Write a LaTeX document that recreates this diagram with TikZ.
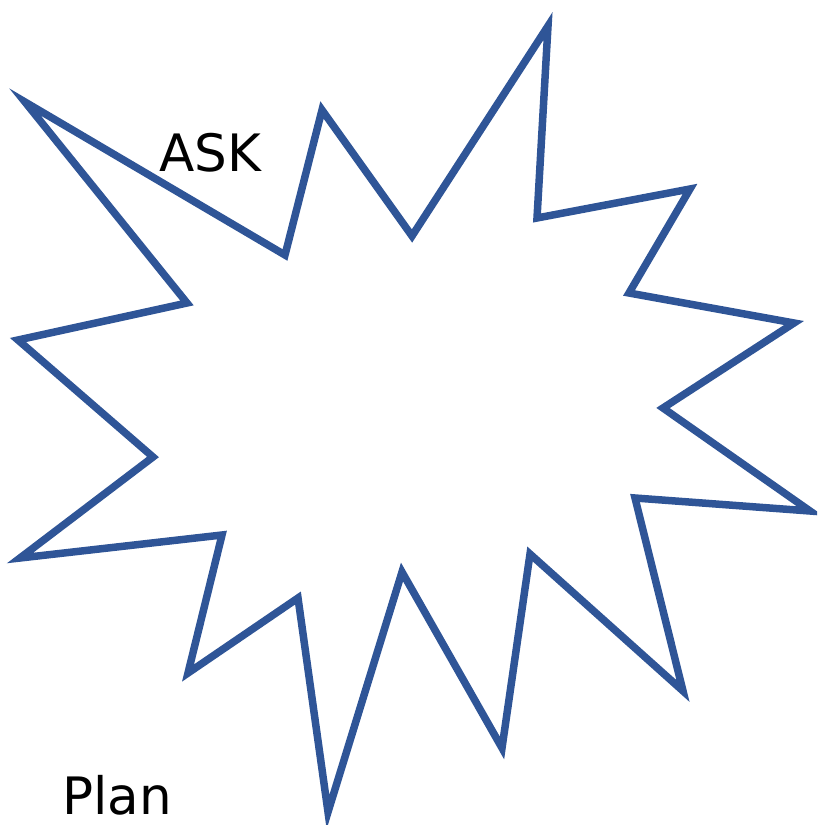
\documentclass[tikz,border=0pt]{standalone}
\usepackage{fontspec}
\setmainfont{DejaVu Sans}
\usetikzlibrary{calc}

\definecolor{burstblue}{RGB}{47,85,151}

\begin{document}
\begin{tikzpicture}[x=0.03cm, y=-0.03cm,
    burst/.style={draw=burstblue, line width=6.4pt, line join=miter, miter limit=20},
    label/.style={font=\fontsize{44}{52}\selectfont, inner sep=0pt}]
        \clip(0,0) rectangle (817,825);
        % outer tips of the burst
        \coordinate(T1)at(25,102);
        \coordinate(T2)at(322,110);
        \coordinate(T3)at(548,26);
        \coordinate(T4)at(690,189);
        \coordinate(T5)at(794,323);
        \coordinate(T6)at(810,511);
        \coordinate(T7)at(683,691);
        \coordinate(T8)at(502,748);
        \coordinate(T9)at(328,812);
        \coordinate(T10)at(188,673);
        \coordinate(T11)at(20,558);
        \coordinate(T12)at(18,340);
        % inner corners
        \coordinate(I1)at(285,255);
        \coordinate(I2)at(412,236);
        \coordinate(I3)at(537,218);
        \coordinate(I4)at(629,293);
        \coordinate(I5)at(663,408);
        \coordinate(I6)at(635,498);
        \coordinate(I7)at(530,554);
        \coordinate(I8)at(402,572);
        \coordinate(I9)at(298,598);
        \coordinate(I10)at(222,535);
        \coordinate(I11)at(153,457);
        \coordinate(I12)at(187,303);
        \path[burst](T1)--(I1)--(T2)--(I2)--(T3)--(I3)--(T4)--(I4)--(T5)--(I5)--(T6)--(I6)
            --(T7)--(I7)--(T8)--(I8)--(T9)--(I9)--(T10)--(I10)--(T11)--(I11)--(T12)--(I12)--cycle;
        % texts
        \node[label, anchor=base west](ask)at(159,172){ASK};
        \node[label, anchor=base west](plan)at(62,814){Plan};
    \end{tikzpicture}
\end{document}
